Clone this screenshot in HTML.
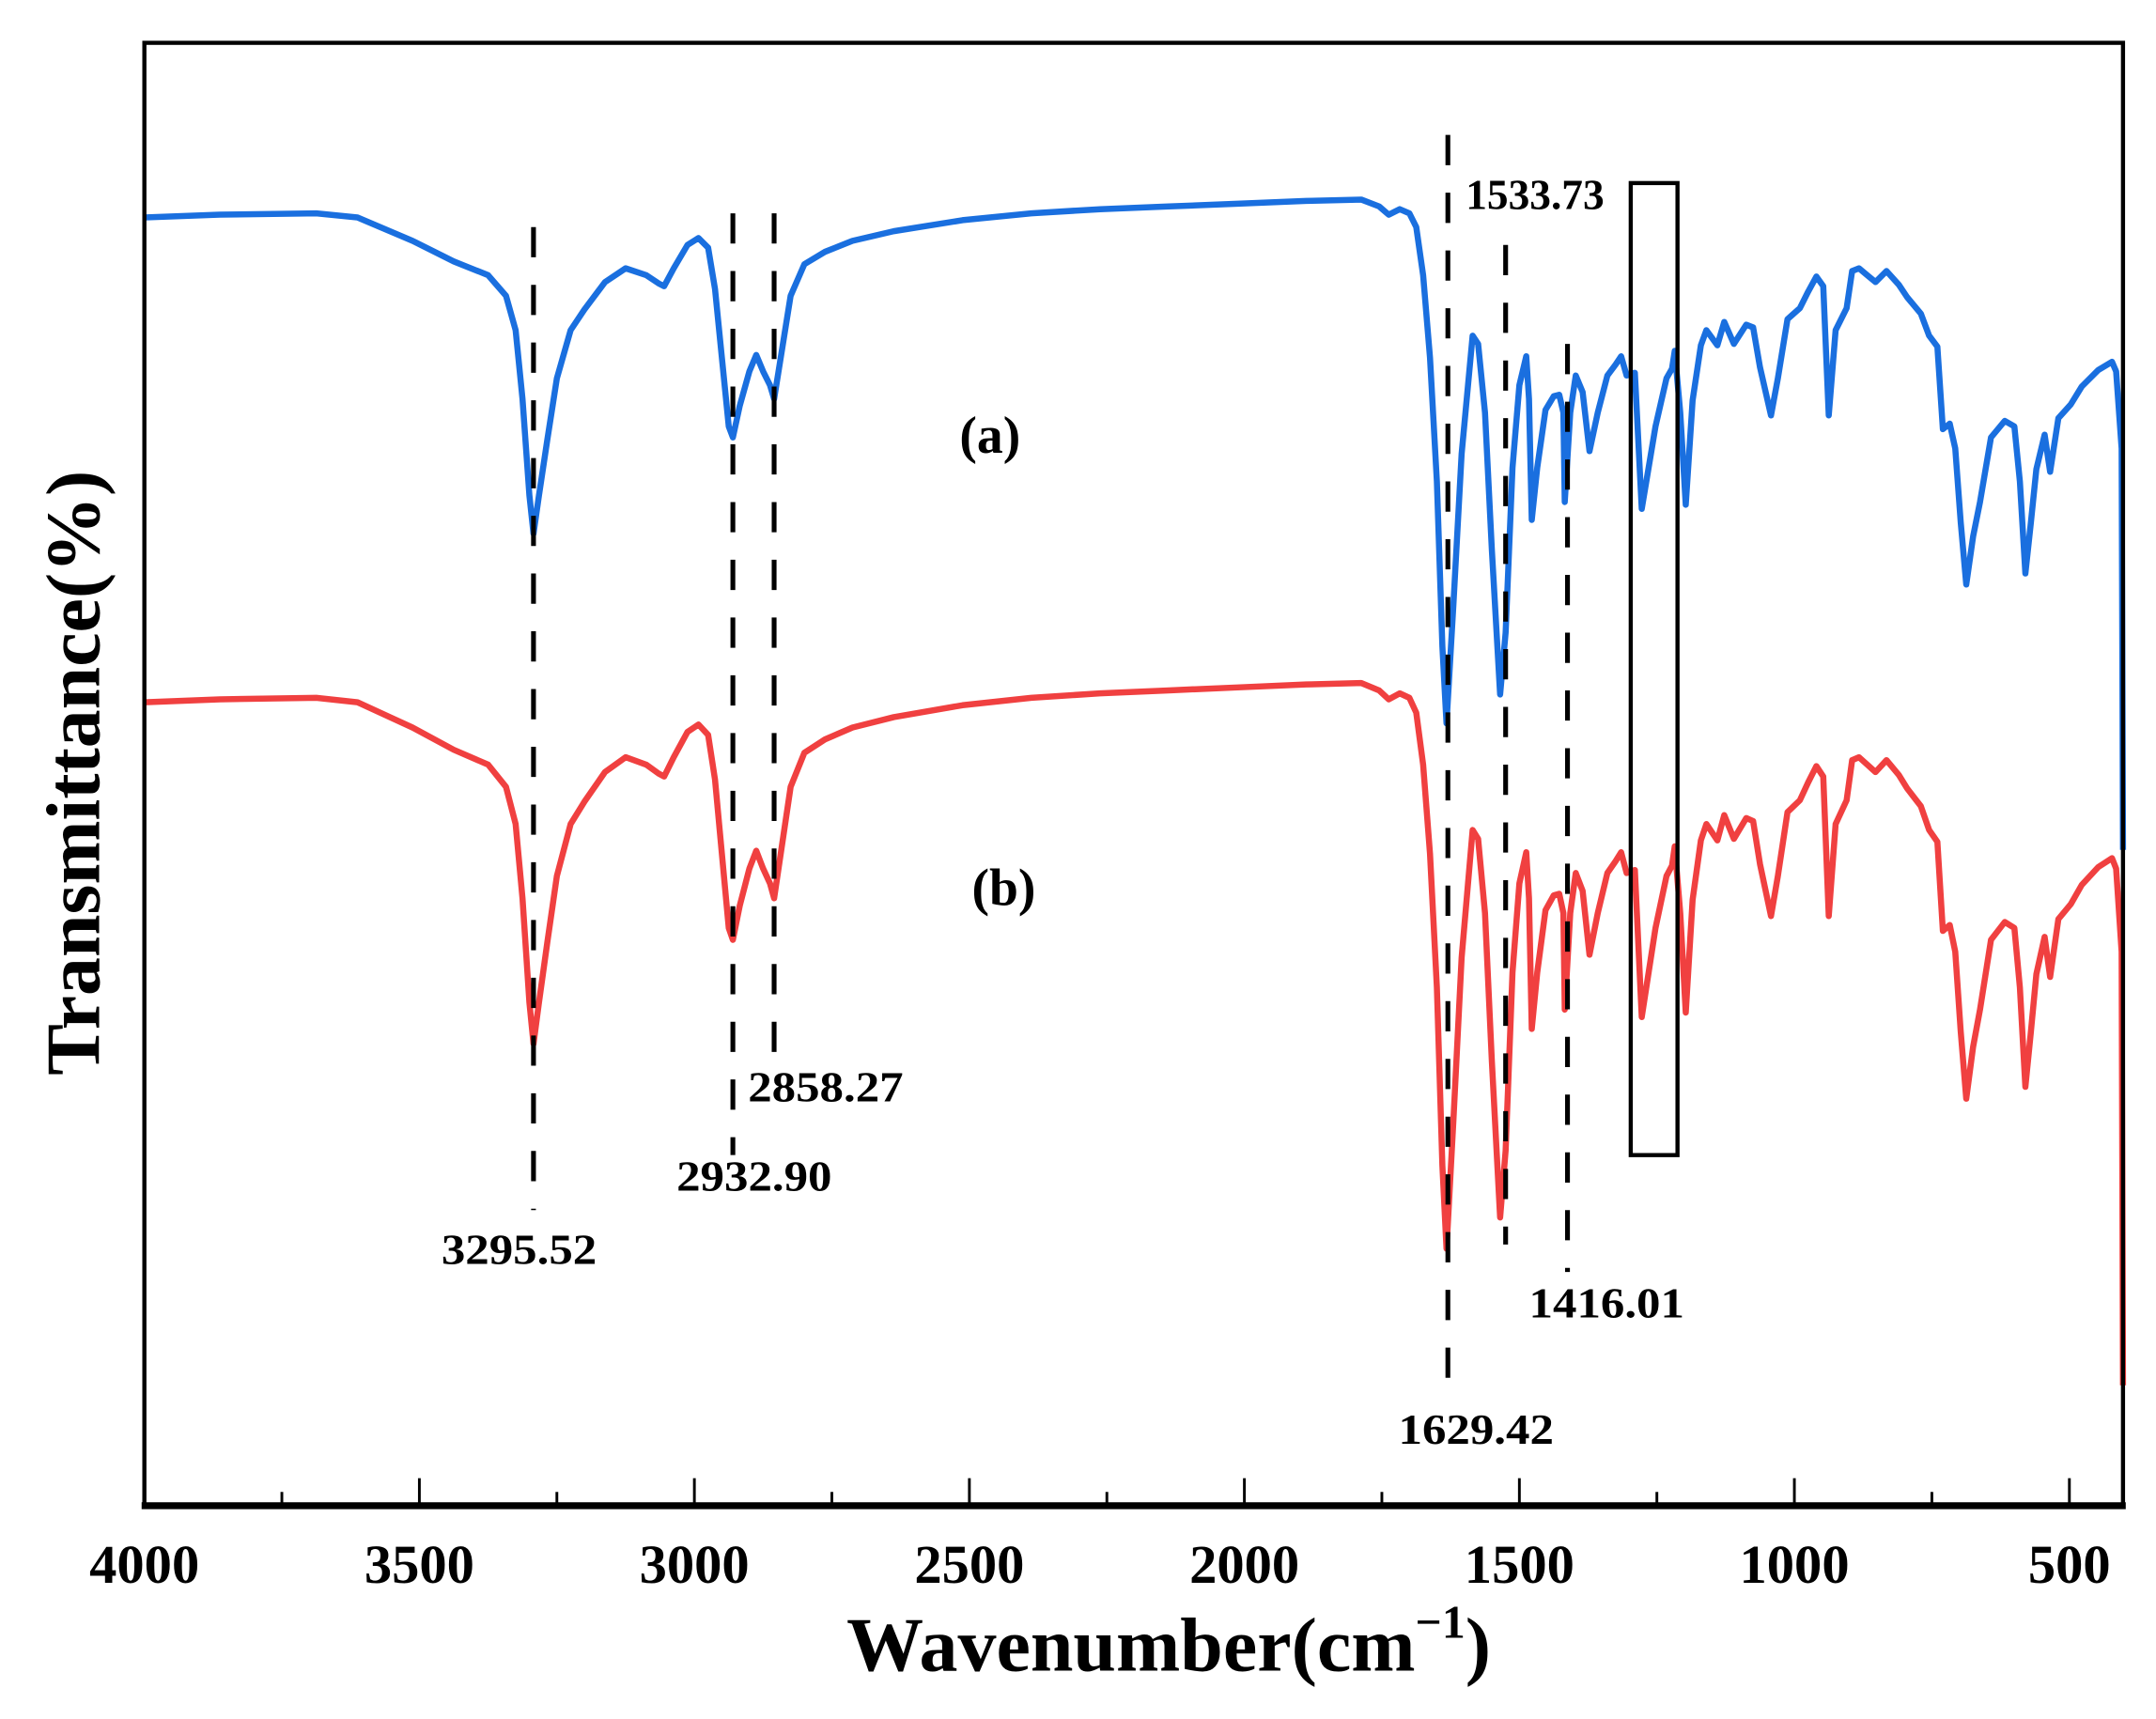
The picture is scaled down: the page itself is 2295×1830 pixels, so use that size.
<!DOCTYPE html>
<html><head><meta charset="utf-8"><style>
html,body{margin:0;padding:0;background:#fff;}
svg{display:block;}
text{font-family:"Liberation Serif",serif;font-weight:bold;fill:#000;}
</style></head><body>
<svg width="2295" height="1830" viewBox="0 0 1568 1250" xmlns="http://www.w3.org/2000/svg">
<defs>
<path id="sp" fill="none" stroke-width="6.5" stroke-linejoin="round" vector-effect="non-scaling-stroke" d="M105,158 L160,156 L230,155 L260,158 L300,175 L330,190 L355,200 L368,215 L375,240 L380,290 L385,360 L388,388 L392,360 L398,320 L405,275 L415,240 L425,225 L440,205 L455,195 L470,200 L479,206 L483,208 L490,195 L500,178 L508,173 L515,180 L520,210 L525,260 L530,310 L533,318 L538,295 L545,270 L550,258 L555,270 L560,280 L563,290 L567,265 L575,215 L585,192 L600,183 L620,175 L650,168 L700,160 L750,155 L800,152 L850,150 L900,148 L950,146 L990,145 L1003,150 L1010,156 L1018,152 L1025,155 L1030,165 L1035,200 L1040,260 L1045,350 L1049,470 L1052,526 L1057,440 L1063,330 L1071,244 L1075,250 L1080,300 L1085,400 L1091,505 L1095,460 L1100,340 L1105,280 L1110,259 L1112,290 L1114,378 L1118,340 L1124,298 L1130,288 L1134,287 L1137,300 L1138,365 L1142,300 L1146,273 L1151,285 L1156,328 L1162,300 L1169,273 L1175,265 L1179,259 L1183,273 L1189,271 L1194,370 L1199,340 L1204,310 L1212,275 L1216,268 L1218,255 L1222,300 L1226,367 L1231,291 L1237,251 L1241,240 L1249,251 L1254,234 L1261,250 L1270,236 L1275,238 L1280,267 L1288,302 L1293,275 L1300,232 L1309,224 L1315,212 L1321,201 L1326,208 L1330,302 L1335,240 L1343,224 L1347,197 L1352,195 L1358,200 L1364,205 L1372,197 L1381,207 L1387,216 L1397,228 L1403,244 L1409,252 L1413,312 L1418,308 L1422,326 L1426,380 L1430,425 L1435,390 L1440,365 L1448,318 L1458,306 L1465,310 L1469,350 L1473,417 L1477,380 L1481,341 L1487,316 L1491,343 L1497,304 L1506,294 L1514,281 L1526,269 L1536,263 L1539,270 L1543,326 L1544,618"/>
</defs>
<use href="#sp" stroke="#1a6fdf"/>
<use href="#sp" stroke="#f04040" transform="matrix(1 0 0 1.08 0 340)"/>
<g stroke="#000" stroke-width="3.5" stroke-dasharray="22 20">
<line x1="388" y1="165" x2="388" y2="880"/>
<line x1="533" y1="155" x2="533" y2="840"/>
<line x1="563" y1="155" x2="563" y2="772"/>
<line x1="1053" y1="98" x2="1053" y2="1020"/>
<line x1="1095" y1="178" x2="1095" y2="905"/>
<line x1="1140" y1="250" x2="1140" y2="925"/>
</g>
<rect x="1186" y="133" width="34" height="707" fill="none" stroke="#000" stroke-width="3"/>
<rect x="105" y="31" width="1439" height="1064" fill="none" stroke="#000" stroke-width="3"/>
<line x1="103" y1="1095" x2="1546" y2="1095" stroke="#000" stroke-width="5"/>
<g stroke="#000" stroke-width="2">
<line x1="105" y1="1095" x2="105" y2="1075"/>
<line x1="205" y1="1095" x2="205" y2="1085"/>
<line x1="305" y1="1095" x2="305" y2="1075"/>
<line x1="405" y1="1095" x2="405" y2="1085"/>
<line x1="505" y1="1095" x2="505" y2="1075"/>
<line x1="605" y1="1095" x2="605" y2="1085"/>
<line x1="705" y1="1095" x2="705" y2="1075"/>
<line x1="805" y1="1095" x2="805" y2="1085"/>
<line x1="905" y1="1095" x2="905" y2="1075"/>
<line x1="1005" y1="1095" x2="1005" y2="1085"/>
<line x1="1105" y1="1095" x2="1105" y2="1075"/>
<line x1="1205" y1="1095" x2="1205" y2="1085"/>
<line x1="1305" y1="1095" x2="1305" y2="1075"/>
<line x1="1405" y1="1095" x2="1405" y2="1085"/>
<line x1="1505" y1="1095" x2="1505" y2="1075"/>
</g>
<g font-size="40" text-anchor="middle">
<text x="105" y="1151">4000</text>
<text x="305" y="1151">3500</text>
<text x="505" y="1151">3000</text>
<text x="705" y="1151">2500</text>
<text x="905" y="1151">2000</text>
<text x="1105" y="1151">1500</text>
<text x="1305" y="1151">1000</text>
<text x="1505" y="1151">500</text>
</g>
<text x="850" y="1215" font-size="56" text-anchor="middle">Wavenumber(cm<tspan font-size="34" dy="-24">−1</tspan><tspan dy="24">)</tspan></text>
<text transform="translate(72,562) rotate(-90)" font-size="56" text-anchor="middle" textLength="440" lengthAdjust="spacingAndGlyphs">Transmittance(%)</text>
<g font-size="38" text-anchor="middle">
<text x="720" y="329">(a)</text>
<text x="730" y="658">(b)</text>
</g>
<g font-size="31">
<text x="1066" y="152">1533.73</text>
<text x="321" y="919" textLength="113" lengthAdjust="spacingAndGlyphs">3295.52</text>
<text x="492" y="866" textLength="113" lengthAdjust="spacingAndGlyphs">2932.90</text>
<text x="544" y="801" textLength="113" lengthAdjust="spacingAndGlyphs">2858.27</text>
<text x="1112" y="958" textLength="113" lengthAdjust="spacingAndGlyphs">1416.01</text>
<text x="1017" y="1050" textLength="113" lengthAdjust="spacingAndGlyphs">1629.42</text>
</g>
</svg>
</body></html>
